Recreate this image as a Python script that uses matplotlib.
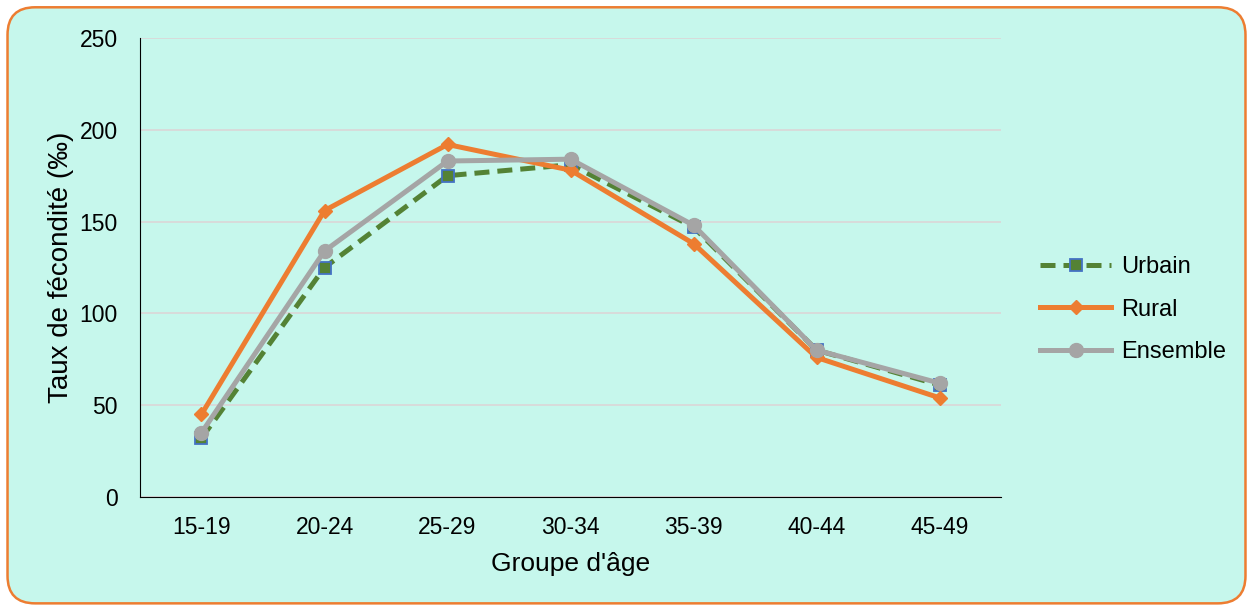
import matplotlib.pyplot as plt
import numpy as np
from matplotlib.patches import FancyBboxPatch

plt.rcParams['font.family'] = ['Liberation Sans', 'DejaVu Sans']

groupes = ['15-19', '20-24', '25-29', '30-34', '35-39', '40-44', '45-49']
urbain = [32, 125, 175, 181, 147, 80, 61]
rural = [45, 156, 192, 178, 138, 76, 54]
ensemble = [35, 134, 183, 184, 148, 80, 62]

bg = '#C6F7EC'

fig = plt.figure(figsize=(12.53, 6.07), dpi=100)
fig.patch.set_facecolor('white')

# rounded orange frame
frame = FancyBboxPatch((0.006, 0.006), 0.988, 0.982,
                       boxstyle='round,pad=0,rounding_size=0.022',
                       transform=fig.transFigure, facecolor=bg,
                       edgecolor='#ED7D31', linewidth=1.8,
                       mutation_aspect=1253 / 607, zorder=-5)
fig.patches.append(frame)

ax = fig.add_axes([0.1117, 0.1812, 0.6873, 0.7562])
ax.set_facecolor(bg)

x = np.arange(len(groupes))
ax.plot(x, urbain, color='#548235', linestyle=(0, (3, 1.6)), linewidth=3.6,
        marker='s', markersize=9, markerfacecolor='#548235',
        markeredgecolor='#4472C4', markeredgewidth=1.3, label='Urbain', zorder=3)
ax.plot(x, rural, color='#ED7D31', linewidth=3.6, marker='D', markersize=7,
        label='Rural', zorder=4)
ax.plot(x, ensemble, color='#A5A5A5', linewidth=3.6, marker='o', markersize=10,
        label='Ensemble', zorder=5)

ax.set_xlim(-0.5, 6.5)
ax.set_ylim(0, 250)
ax.set_yticks([0, 50, 100, 150, 200, 250])
ax.set_xticks(x)
ax.set_xticklabels(groupes)
ax.grid(axis='y', color='#D9D9D9', linewidth=1.3)
ax.set_axisbelow(True)
for s in ['top', 'right']:
    ax.spines[s].set_visible(False)
ax.spines['left'].set_color('black')
ax.spines['bottom'].set_color('black')
ax.tick_params(axis='both', length=0, labelsize=16.5)
ax.tick_params(axis='x', pad=14)
ax.tick_params(axis='y', pad=16)

ax.set_xlabel("Groupe d'âge", fontsize=19, labelpad=9)
ax.set_ylabel('Taux de fécondité (‰)', fontsize=20, labelpad=4)

leg = ax.legend(loc='center left', bbox_to_anchor=(1.021, 0.408), frameon=False,
                fontsize=17, handlelength=3.0, labelspacing=0.87,
                handletextpad=0.4)

fig.savefig('out.png', dpi=100, facecolor='white')
